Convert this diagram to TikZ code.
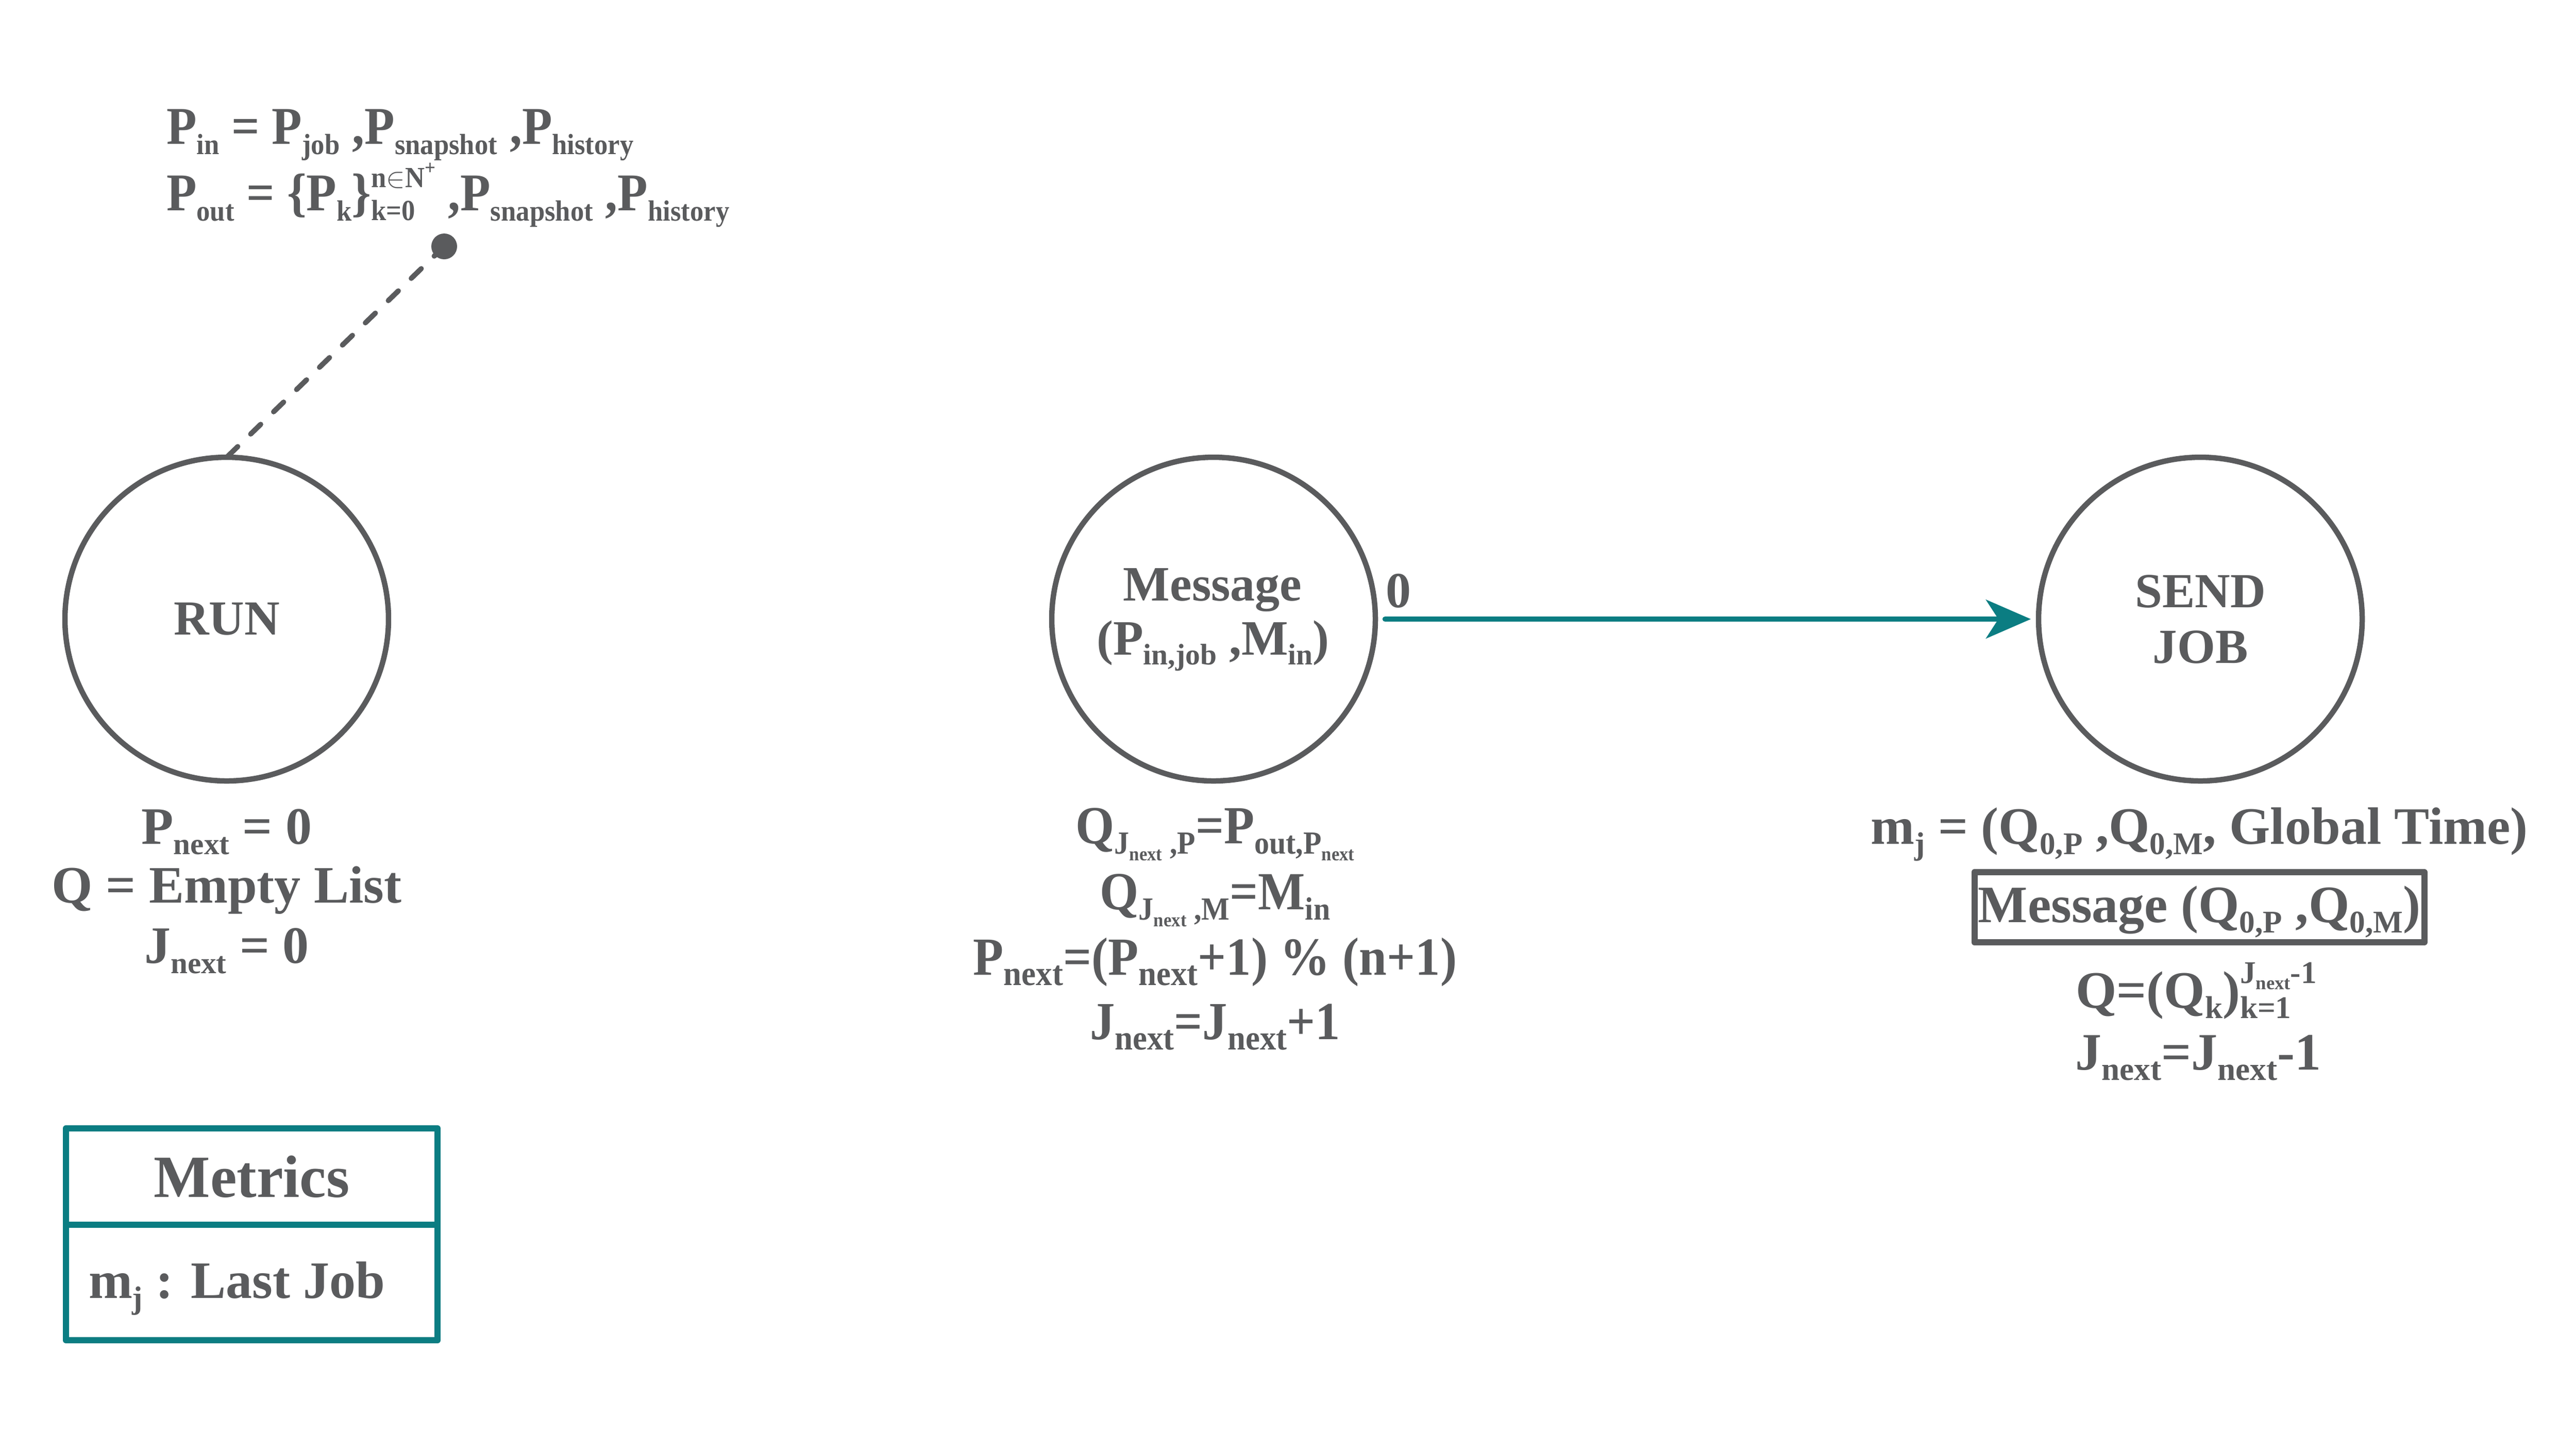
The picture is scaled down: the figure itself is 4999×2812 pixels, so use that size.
\documentclass[tikz,border=0pt]{standalone}
\usepackage{fontspec}
\setmainfont{Liberation Serif}
\newfontfamily\cnd{Liberation Serif}[FakeStretch=0.93]
\usepackage{graphicx}
\usetikzlibrary{arrows.meta}
\definecolor{ink}{HTML}{5A5B5D}
\definecolor{tealc}{HTML}{0B7D82}
\newcommand{\lo}[2][0.6]{\raisebox{-0.2em}{\scalebox{#1}{#2}}}
\newcommand{\lohi}[3][0.6]{\scalebox{#1}{\ooalign{\raisebox{-0.34em}{#2}\hfill\cr\raisebox{0.78em}{#3}\hfill\cr}}}
\newcommand{\plus}{\raisebox{0.45em}{\scalebox{0.7}{+}}}
\tikzset{
  state/.style={circle, draw=ink, line width=1.05pt, minimum size=62.8pt, inner sep=0pt, outer sep=0pt,
    text=ink, align=center, font=\bfseries\fontsize{9.5}{10.8}\selectfont},
  txt/.style={text=ink, inner sep=0pt, outer sep=0pt, anchor=base},
  lbl/.style={txt, font=\bfseries\fontsize{9.6}{11}\selectfont},
  conn/.style={draw=tealc, line width=1.05pt, line cap=round, -{Stealth[length=8.7pt,width=7.5pt,inset=2.4pt]}},
  mbox/.style={draw=tealc, line width=1.2pt, line join=round, minimum width=72.1pt, inner sep=0pt, outer sep=0pt,
    text=ink},
  dashln/.style={draw=ink, line width=1pt, line cap=round, dash pattern=on 2.7pt off 3.5pt}
}
\begin{document}
\begin{tikzpicture}[x=0.1pt, y=-0.1pt]
\useasboundingbox[fill=white] (0,0) rectangle (4999,2812);

% top annotation
\node[txt, anchor=base west, font=\cnd\bfseries\fontsize{10.3}{12}\selectfont] (pin) at (323,279)
  {P\lo[0.55]{in} = P\lo[0.55]{job} ,P\lo[0.55]{snapshot} ,P\lo[0.55]{history}};
\node[txt, anchor=base west, font=\cnd\bfseries\fontsize{10.3}{12}\selectfont] (pout) at (323,408)
  {P\lo[0.55]{out} = \{P\lo[0.55]{k}\}\lohi[0.55]{k=0}{n$\in$N\plus} ,P\lo[0.55]{snapshot} ,P\lo[0.55]{history}};
\coordinate (dotc) at (862,478);
\fill[ink] (dotc) circle (2.5pt);

% states
\node[state] (run) at (440,1201) {RUN};
\node[state] (msg) at (2355,1201) {};
\node[state] (send) at (4270,1201) {SEND\\JOB};
\node[lbl] (msgl1) at (2353,1165) {Message};
\node[lbl] (msgl2) at (2354,1270) {(P\lo{in,job} ,M\lo{in})};

\draw[dashln] (dotc) -- (run.north);
\draw[conn, shorten <=1.9pt, shorten >=1.5pt] (msg.east) -- (send.west);
\node[txt, font=\bfseries\fontsize{9.8}{11}\selectfont] (zero) at (2714,1178) {0};

% RUN block
\node[txt, font=\bfseries\fontsize{10.2}{12}\selectfont] (r1) at (440,1637) {P\lo[0.58]{next} = 0};
\node[txt, font=\bfseries\fontsize{10.2}{12}\selectfont] (r2) at (440,1751) {Q = Empty List};
\node[txt, font=\bfseries\fontsize{10.2}{12}\selectfont] (r3) at (440,1868) {J\lo[0.58]{next} = 0};

% Message block
\node[txt, font=\cnd\bfseries\fontsize{10.4}{12}\selectfont] (m1) at (2358,1636) {Q\lo{J\lo{next} ,P}=P\lo{out,P\lo{next}}};
\node[txt, font=\cnd\bfseries\fontsize{10.4}{12}\selectfont] (m2) at (2358,1764) {Q\lo{J\lo{next} ,M}=M\lo{in}};
\node[txt, font=\cnd\bfseries\fontsize{10.4}{12}\selectfont] (m3) at (2358,1891) {P\lo[0.65]{next}=(P\lo[0.65]{next}+1) \% (n+1)};
\node[txt, font=\cnd\bfseries\fontsize{10.4}{12}\selectfont] (m4) at (2358,2016) {J\lo[0.65]{next}=J\lo[0.65]{next}+1};

% SEND block
\node[txt, font=\bfseries\fontsize{10.2}{12}\selectfont] (s1) at (4268,1637) {m\lo{j} = (Q\lo{0,P} ,Q\lo{0,M}, Global Time)};
\node[draw=ink, line width=1.2pt, line join=round, text=ink, inner sep=0pt, outer sep=0pt,
  minimum width=87.3pt, minimum height=13.6pt, text height=7.4pt, text depth=1.6pt,
  font=\bfseries\fontsize{10.2}{12}\selectfont] (s2) at (4268,1760) {Message (Q\lo{0,P} ,Q\lo{0,M})};
\node[txt, font=\bfseries\fontsize{10.2}{12}\selectfont] (s3) at (4262,1955) {Q=(Q\lo{k})\lohi{k=1}{J\lo{next}-1}};
\node[txt, font=\bfseries\fontsize{10.2}{12}\selectfont] (s4) at (4266,2075) {J\lo[0.62]{next}=J\lo[0.62]{next}-1};

% Metrics box
\node[mbox, minimum height=18.7pt, font=\bfseries\fontsize{11.6}{13}\selectfont] (mhead) at (488.5,2282.5) {Metrics};
\node[mbox, minimum height=22.4pt] (mbody) at (488.5,2488) {};
\node[txt, anchor=base west, font=\bfseries\fontsize{10.2}{12}\selectfont] (mj) at (172,2518) {m\lo{j} : Last Job};
\end{tikzpicture}
\end{document}
